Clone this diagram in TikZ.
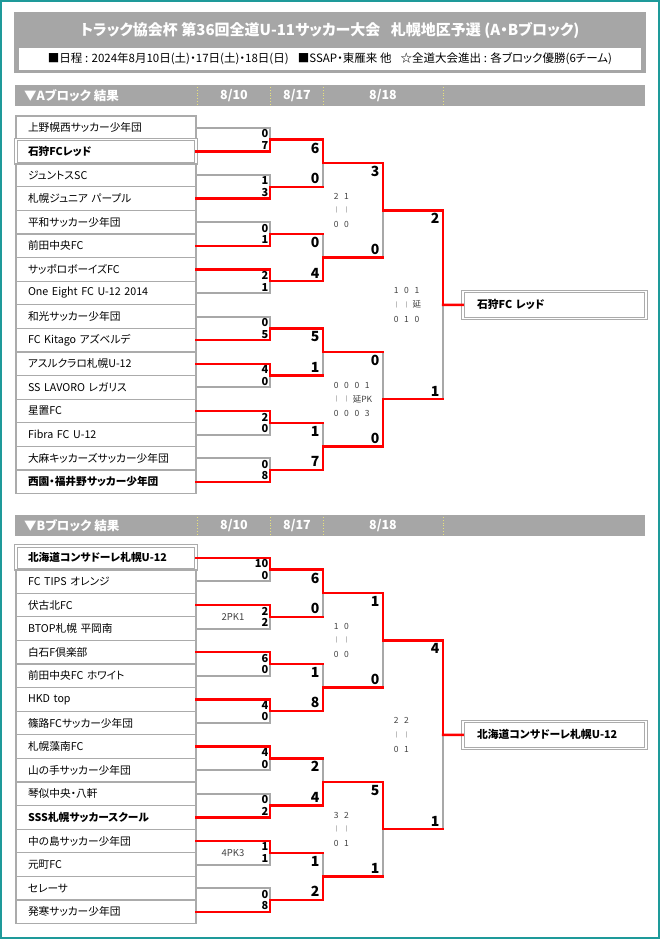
\documentclass[tikz,border=0pt]{standalone}
\usepackage{fontspec}
\setmainfont{Noto Sans CJK JP}[RawFeature=+palt]
\usetikzlibrary{calc}
\definecolor{frameteal}{HTML}{1E9A9A}
\definecolor{bargray}{HTML}{A6A6A6}
\definecolor{boxgray}{HTML}{ABABAB}
\definecolor{linegray}{HTML}{A8A8A8}
\definecolor{winred}{HTML}{FF0000}
\definecolor{sepyellow}{HTML}{E8E27A}
\definecolor{halftext}{HTML}{404040}
\newcommand\tickbar{{\fontsize{5.5}{5.5}\selectfont |}}

\tikzset{
  team/.style={draw=boxgray, line width=1.2pt, minimum height=23.6pt, text width=156pt, inner xsep=12pt, inner ysep=0pt, align=left, font=\fontsize{10.7}{12}\selectfont},
  teamb/.style={team, font=\bfseries\fontsize{10.7}{12}\selectfont},
  teamc/.style={teamb, line width=0.9pt, double=white, double distance=1.4pt},
  champ/.style={teamc, text width=155pt, inner xsep=14pt, minimum height=27pt, font=\bfseries\fontsize{10.8}{12}\selectfont},
  lose/.style={linegray, line width=2pt},
  win/.style={winred, line width=2.5pt, line cap=rect},
  sc1/.style={font=\bfseries\fontsize{11}{11}\selectfont, inner xsep=1.5pt, inner ysep=1.8pt},
  sc/.style={font=\bfseries\fontsize{14}{14}\selectfont, inner xsep=3.5pt, inner ysep=3pt},
  half/.style={font=\fontsize{8.5}{9}\selectfont, text=halftext, inner sep=0pt},
  pk/.style={font=\fontsize{9.5}{10}\selectfont, text=halftext, inner sep=0pt},
  head/.style={text=white, font=\bfseries\fontsize{12.5}{13}\selectfont, inner sep=0pt},
  datelbl/.style={text=white, font=\bfseries\fontsize{12.5}{13}\selectfont, inner sep=0pt},
  daysep/.style={sepyellow, line width=0.8pt, dotted},
}

% one block: #1 prefix, #2 y offset, #3 teams, #4 first round, #5 later rounds
\newcommand\bracketblock[5]{%
  \fill[bargray] (15,{#2+85}) rectangle (645,{#2+106});
  \node[head, anchor=west] (#1head) at (24,{#2+95.5}) {▼#1ブロック 結果};
  \node[datelbl] (#1d1) at (234,{#2+95.5}) {8/10};
  \node[datelbl] (#1d2) at (297,{#2+95.5}) {8/17};
  \node[datelbl] (#1d3) at (383,{#2+95.5}) {8/18};
  \foreach \x in {197,270,323,443} \draw[daysep] (\x,{#2+87}) -- (\x,{#2+104});
  \foreach \tname/\sty [count=\i] in {#3}
    \node[\sty] (#1\i) at (106,{#2+127.8+(\i-1)*23.6}) {\tname};
  \foreach \mi/\sca/\scb/\wi/\li in {#4}{
    \pgfmathtruncatemacro\up{2*\mi-1}
    \pgfmathtruncatemacro\dn{2*\mi}
    \coordinate (#1r1m\mi) at (270,{#2+127.8+(2*\mi-1.5)*23.6});
    \draw[lose] (#1\li.east) -| (#1r1m\mi);
    \draw[win] (#1\wi.east) -| (#1r1m\mi);
    \node[sc1, anchor=north east] (#1r1m\mi t) at (#1\up.east -| #1r1m\mi) {\sca};
    \node[sc1, anchor=south east] (#1r1m\mi b) at (#1\dn.east -| #1r1m\mi) {\scb};
  }
  \foreach \rd/\kk/\mx/\sca/\scb/\wt in {#5}{
    \pgfmathtruncatemacro\pr{\rd-1}
    \pgfmathtruncatemacro\up{2*\kk-1}
    \pgfmathtruncatemacro\dn{2*\kk}
    \if t\wt \edef\wi{\up}\edef\li{\dn}\else \edef\wi{\dn}\edef\li{\up}\fi
    \coordinate (#1r\rd m\kk) at (\mx,{#2+127.8+(2^(\rd)*\kk-2^(\rd-1)-0.5)*23.6});
    \draw[lose] (#1r\pr m\li) -| (#1r\rd m\kk);
    \draw[win] (#1r\pr m\li) -- (#1r\pr m\li -| #1r\rd m\kk);
    \draw[win] (#1r\pr m\wi) -| (#1r\rd m\kk);
    \node[sc, anchor=north east] (#1r\rd m\kk t) at (#1r\pr m\up -| #1r\rd m\kk) {\sca};
    \node[sc, anchor=south east] (#1r\rd m\kk b) at (#1r\pr m\dn -| #1r\rd m\kk) {\scb};
  }
}

% half-time scores under a match: #1 match, #2 column/top/bottom
\newcommand\halves[2]{%
  \foreach \col/\tp/\bt in {#2}{
    \node[half] (#1h\col t) at ($(#1)+({-57+10.3*\col},-14)$) {\tp};
    \node[half] (#1h\col b) at ($(#1)+({-57+10.3*\col},14.5)$) {\bt};
  }
  \foreach \col in {1,2}
    \node[half] (#1h\col m) at ($(#1)+({-57+10.3*\col},0)$) {\tickbar};
}

\begin{document}
\begin{tikzpicture}[x=1pt, y=-1pt]
  \useasboundingbox (0,0) rectangle (660,939);
  \draw[frameteal, line width=2pt] (1,1) rectangle (659,938);

  % title
  \fill[bargray] (14,12) rectangle (646,73);
  \fill[white] (19,48) rectangle (641,70);
  \node[text=white, font=\bfseries\fontsize{15}{16}\selectfont] (title) at (330,30)
    {トラック協会杯 第36回全道U-11サッカー大会\hspace{0.7em}札幌地区予選 (A・Bブロック)};
  \node[font=\fontsize{11.5}{12}\selectfont] (info) at (330,59)
    {■日程 : 2024年8月10日(土)・17日(土)・18日(日)\hspace{0.8em}■SSAP・東雁来 他\hspace{0.8em}☆全道大会進出 : 各ブロック優勝(6チーム)};

  % A block
  \bracketblock{A}{0}
    {上野幌西サッカー少年団/team, 石狩FCレッド/teamc, ジュントスSC/team, 札幌ジュニア パープル/team,
     平和サッカー少年団/team, 前田中央FC/team, サッポロボーイズFC/team, One Eight FC U-12 2014/team,
     和光サッカー少年団/team, FC Kitago アズベルデ/team, アスルクラロ札幌U-12/team, SS LAVORO レガリス/team,
     星置FC/team, Fibra FC U-12/team, 大麻キッカーズサッカー少年団/team, 西園・福井野サッカー少年団/teamb}
    {1/0/7/2/1, 2/1/3/4/3, 3/0/1/6/5, 4/2/1/7/8, 5/0/5/10/9, 6/4/0/11/12, 7/2/0/13/14, 8/0/8/16/15}
    {2/1/323/6/0/t, 2/2/323/0/4/b, 2/3/323/5/1/t, 2/4/323/1/7/b, 3/1/383/3/0/t, 3/2/383/0/0/b, 4/1/443/2/1/t}
  \node[champ] (Achamp) at (554.5,304.8) {石狩FC レッド};
  \draw[win] (Ar4m1) -- (Achamp.west);
  \halves{Ar3m1}{1/2/0, 2/1/0}
  \halves{Ar3m2}{1/0/0, 2/0/0, 3/0/0, 4/1/3}
  \node[half, anchor=west] (Ar3m2x) at ($(Ar3m2)+(-30.4,0)$) {延PK};
  \halves{Ar4m1}{1/1/0, 2/0/1, 3/1/0}
  \node[half] (Ar4m1x) at ($(Ar4m1)+(-26.1,0)$) {延};

  % B block
  \bracketblock{B}{430}
    {北海道コンサドーレ札幌U-12/teamc, FC TIPS オレンジ/team, 伏古北FC/team, BTOP札幌 平岡南/team,
     白石F倶楽部/team, 前田中央FC ホワイト/team, HKD top/team, 篠路FCサッカー少年団/team,
     札幌藻南FC/team, 山の手サッカー少年団/team, 琴似中央・八軒/team, SSS札幌サッカースクール/teamb,
     中の島サッカー少年団/team, 元町FC/team, セレーサ/team, 発寒サッカー少年団/team}
    {1/10/0/1/2, 2/2/2/3/4, 3/6/0/5/6, 4/4/0/7/8, 5/4/0/9/10, 6/0/2/12/11, 7/1/1/13/14, 8/0/8/16/15}
    {2/1/323/6/0/t, 2/2/323/1/8/b, 2/3/323/2/4/b, 2/4/323/1/2/b, 3/1/383/1/0/t, 3/2/383/5/1/t, 4/1/443/4/1/t}
  \node[champ] (Bchamp) at (554.5,734.8) {北海道コンサドーレ札幌U-12};
  \draw[win] (Br4m1) -- (Bchamp.west);
  \node[pk] (Bpk1) at ($(Br1m2)+(-37,0)$) {2PK1};
  \node[pk] (Bpk2) at ($(Br1m7)+(-37,0)$) {4PK3};
  \halves{Br3m1}{1/1/0, 2/0/0}
  \halves{Br3m2}{1/3/0, 2/2/1}
  \halves{Br4m1}{1/2/0, 2/2/1}
\end{tikzpicture}
\end{document}
